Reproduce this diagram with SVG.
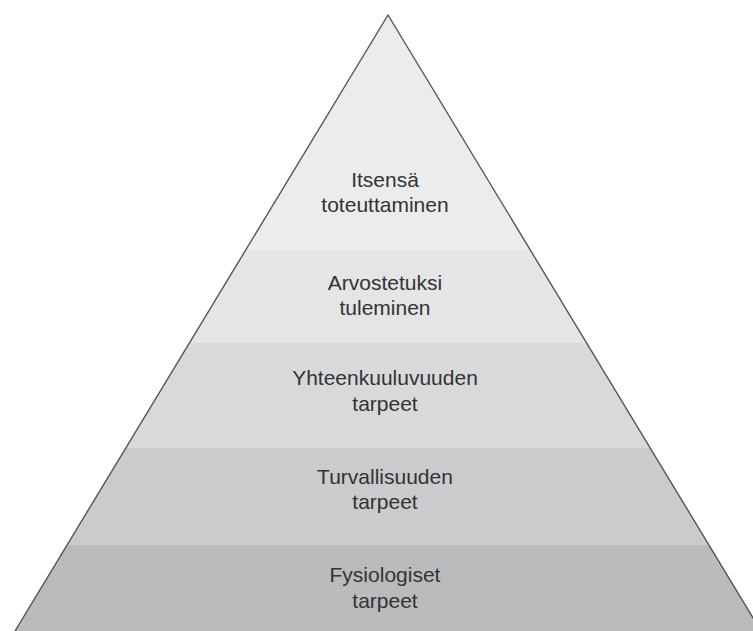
<svg xmlns="http://www.w3.org/2000/svg" width="753" height="631" viewBox="0 0 753 631">
  <style>
    .lbl { font-family: "Liberation Sans", Arial, sans-serif; font-size: 21px; fill: #333; text-anchor: middle; }
    .edge { fill: none; stroke: #555; stroke-width: 1.4; stroke-linejoin: miter; }
  </style>
  <defs>
    <clipPath id="tri">
      <polygon points="388,15 15,631 761,631"/>
    </clipPath>
  </defs>
  <rect width="753" height="631" fill="#ffffff"/>
  <g clip-path="url(#tri)">
    <g id="level5">
      <rect x="0" y="0" width="753" height="250" fill="#ececec"/>
      <text class="lbl" x="385" y="187">Itsensä</text>
      <text class="lbl" x="385" y="212">toteuttaminen</text>
    </g>
    <g id="level4">
      <rect x="0" y="250" width="753" height="93" fill="#e4e5e6"/>
      <text class="lbl" x="385" y="290">Arvostetuksi</text>
      <text class="lbl" x="385" y="315">tuleminen</text>
    </g>
    <g id="level3">
      <rect x="0" y="343" width="753" height="105" fill="#d8d9db"/>
      <text class="lbl" x="385" y="385">Yhteenkuuluvuuden</text>
      <text class="lbl" x="385" y="411">tarpeet</text>
    </g>
    <g id="level2">
      <rect x="0" y="448" width="753" height="97" fill="#c9cbcc"/>
      <text class="lbl" x="385" y="484">Turvallisuuden</text>
      <text class="lbl" x="385" y="509">tarpeet</text>
    </g>
    <g id="level1">
      <rect x="0" y="545" width="753" height="86" fill="#b9bbbc"/>
      <text class="lbl" x="385" y="582">Fysiologiset</text>
      <text class="lbl" x="385" y="608">tarpeet</text>
    </g>
  </g>
  <g id="connectors">
    <polyline class="edge" points="15,631 388,15 761,631"/>
  </g>
</svg>
